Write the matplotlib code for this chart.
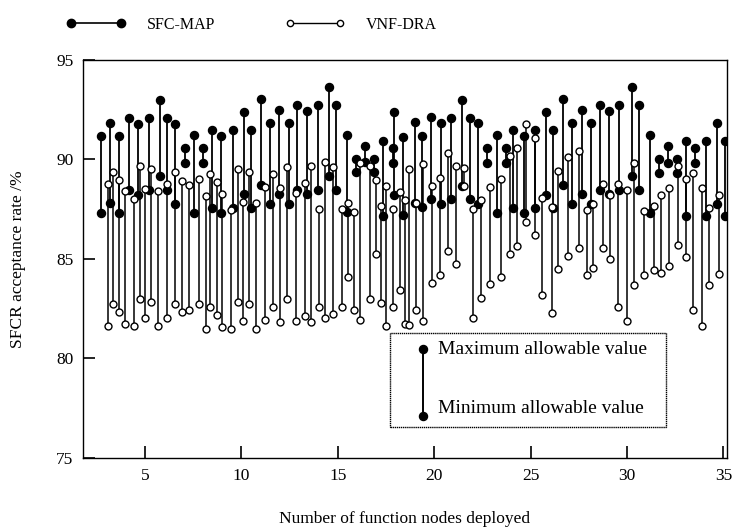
import numpy as np
import matplotlib
matplotlib.use("Agg")
from matplotlib import pyplot as plt
from matplotlib.lines import Line2D
from matplotlib.patches import Rectangle

plt.rcParams['font.family'] = ['Liberation Serif', 'DejaVu Serif']

# SFC-MAP: x position, max value, min value
sfc_x = [2.72, 3.20, 3.67, 4.15, 4.64, 5.21, 5.76, 6.16, 6.57, 7.06,
         7.54, 7.99, 8.48, 8.96, 9.55, 10.12, 10.50, 11.02, 11.50, 11.97,
         12.45, 12.88, 13.39, 13.96, 14.53, 14.92, 15.46, 15.93, 16.41, 16.89,
         17.36, 17.85, 17.93, 18.40, 18.99, 19.37, 19.85, 20.34, 20.89, 21.46,
         21.86, 22.29, 22.75, 23.24, 23.72, 24.09, 24.66, 25.23, 25.80, 26.18,
         26.70, 27.16, 27.65, 28.12, 28.60, 29.08, 29.59, 30.26, 30.62, 31.18,
         31.64, 32.13, 32.61, 33.08, 33.54, 34.11, 34.68, 35.07]
sfc_max = [91.18, 91.82, 91.18, 92.10, 91.78, 92.10, 93.00, 92.10, 91.78, 90.59,
           91.23, 90.56, 91.48, 91.18, 91.48, 92.36, 91.48, 93.03, 91.82, 92.46,
           91.82, 92.74, 92.41, 92.74, 93.62, 92.74, 91.23, 90.00, 90.67, 90.00,
           90.94, 90.59, 92.39, 91.14, 91.87, 91.18, 92.12, 91.82, 92.10, 93.00,
           92.10, 91.82, 90.56, 91.23, 90.56, 91.48, 91.18, 91.48, 92.36, 91.48,
           93.03, 91.82, 92.46, 91.82, 92.74, 92.41, 92.74, 93.62, 92.74, 91.23,
           90.00, 90.67, 90.00, 90.94, 90.59, 90.94, 91.82, 90.94]
sfc_min = [87.31, 87.81, 87.31, 88.48, 88.20, 88.48, 89.16, 88.48, 87.78, 89.80,
           87.31, 89.80, 87.56, 87.31, 87.56, 88.28, 87.56, 88.70, 87.78, 88.28,
           87.78, 88.48, 88.25, 88.48, 89.16, 88.48, 87.36, 89.38, 89.88, 89.38,
           87.14, 89.83, 88.20, 87.19, 87.81, 87.61, 88.00, 87.74, 88.00, 88.67,
           88.00, 87.74, 89.80, 87.32, 89.80, 87.56, 87.31, 87.56, 88.23, 87.56,
           88.70, 87.78, 88.28, 87.78, 88.48, 88.25, 88.48, 89.16, 88.48, 87.31,
           89.34, 89.83, 89.34, 87.14, 89.83, 87.14, 87.78, 87.14]

# VNF-DRA: x position, max value, min value
vnf_x = [3.08, 3.32, 3.67, 3.95, 4.41, 4.74, 4.98, 5.31, 5.69, 6.16,
         6.54, 6.92, 7.28, 7.79, 8.16, 8.39, 8.72, 8.99, 9.46, 9.81,
         10.07, 10.38, 10.76, 11.22, 11.62, 12.00, 12.35, 12.83, 13.31, 13.63,
         14.02, 14.32, 14.77, 15.23, 15.54, 15.86, 16.17, 16.65, 16.98, 17.26,
         17.50, 17.85, 18.23, 18.50, 18.68, 19.06, 19.40, 19.89, 20.30, 20.72,
         21.13, 21.55, 22.01, 22.41, 22.88, 23.45, 23.95, 24.31, 24.76, 25.23,
         25.58, 26.09, 26.44, 26.92, 27.51, 27.91, 28.25, 28.74, 29.12, 29.52,
         30.02, 30.35, 30.87, 31.40, 31.78, 32.18, 32.66, 33.08, 33.44, 33.90,
         34.25, 34.77]
vnf_max = [88.75, 89.38, 88.96, 88.40, 88.03, 89.66, 88.50, 89.51, 88.40, 88.74,
           89.38, 88.92, 88.69, 89.01, 88.15, 89.26, 88.84, 88.25, 87.44, 89.51,
           87.86, 89.38, 87.81, 88.59, 89.26, 88.54, 89.63, 88.30, 88.79, 89.66,
           87.53, 89.88, 89.63, 87.53, 87.83, 87.36, 89.80, 89.66, 88.96, 87.66,
           88.67, 87.53, 88.37, 87.95, 89.51, 87.83, 89.75, 88.67, 89.09, 90.34,
           89.66, 89.55, 87.53, 87.98, 88.62, 88.99, 90.15, 90.56, 91.78, 91.09,
           88.08, 87.61, 89.41, 90.10, 90.42, 87.44, 87.78, 88.74, 88.23, 88.77,
           88.48, 89.80, 87.41, 87.64, 88.20, 88.57, 89.66, 89.04, 89.34, 88.54,
           87.58, 88.20]
vnf_min = [81.63, 82.73, 82.31, 81.75, 81.63, 82.98, 82.02, 82.85, 81.63, 82.05,
           82.73, 82.31, 82.41, 82.73, 81.46, 82.59, 82.17, 81.58, 81.46, 82.85,
           81.89, 82.73, 81.46, 81.92, 82.56, 81.85, 82.98, 81.87, 82.14, 81.84,
           82.59, 82.05, 82.22, 82.59, 84.11, 82.42, 81.94, 83.01, 85.24, 82.76,
           81.63, 82.59, 83.43, 81.75, 81.68, 82.42, 81.89, 83.77, 84.19, 85.42,
           84.73, 88.67, 82.05, 83.03, 83.74, 84.07, 85.25, 85.64, 86.85, 86.18,
           83.18, 82.26, 84.49, 85.17, 85.54, 84.21, 84.56, 85.54, 85.00, 82.59,
           81.89, 83.69, 84.19, 84.44, 84.28, 84.66, 85.71, 85.12, 82.44, 81.63,
           83.69, 84.24]

xticks = [5, 10, 15, 20, 25, 30, 35]
yticks = [75, 80, 85, 90, 95]

fig = plt.figure(figsize=(7.48, 5.30), dpi=100)
ax = fig.add_axes([0.111, 0.136, 0.861, 0.751])

ax.vlines(sfc_x, sfc_min, sfc_max, colors='black', linewidth=1.3, zorder=2)
ax.vlines(vnf_x, vnf_min, vnf_max, colors='black', linewidth=1.1, zorder=2)
ax.plot(sfc_x, sfc_max, 'o', color='black', ms=5.8, zorder=3, linestyle='none')
ax.plot(sfc_x, sfc_min, 'o', color='black', ms=5.8, zorder=3, linestyle='none')
ax.plot(vnf_x, vnf_max, 'o', mfc='white', mec='black', mew=1.0, ms=5.0, zorder=4, linestyle='none')
ax.plot(vnf_x, vnf_min, 'o', mfc='white', mec='black', mew=1.0, ms=5.0, zorder=4, linestyle='none')

ax.set_xlim(1.78, 35.19)
ax.set_ylim(75, 95)
ax.set_xticks(xticks)
ax.set_yticks(yticks)
ax.tick_params(direction='in', length=8.5, width=1.2, labelsize=12.5, pad=7,
               top=False, right=False)
for s in ax.spines.values():
    s.set_linewidth(1.0)
ax.set_xlabel('Number of function nodes deployed', fontsize=12.5, labelpad=20)
ax.set_ylabel('SFCR acceptance rate /%', fontsize=12.5, labelpad=22)

# inner annotation box
box = Rectangle((0.4767, 0.0779), 0.4286, 0.2362, transform=ax.transAxes,
                fill=False, edgecolor='black', linewidth=1.0, linestyle=(0, (1, 0.5)), zorder=5)
ax.add_patch(box)
stem = Line2D([0.528, 0.528], [0.2735, 0.1055], transform=ax.transAxes, color='black',
              linewidth=1.4, zorder=6, clip_on=False)
ax.add_line(stem)
ax.add_line(Line2D([0.528, 0.528], [0.2735, 0.1055], transform=ax.transAxes,
                   linestyle='none', marker='o', ms=5.8, color='black', zorder=7, clip_on=False))
ax.text(0.551, 0.2735, 'Maximum allowable value', transform=ax.transAxes,
        fontsize=14, va='center', ha='left', zorder=6)
ax.text(0.551, 0.1232, 'Minimum allowable value', transform=ax.transAxes,
        fontsize=14, va='center', ha='left', zorder=6)

# top legend
h1 = Line2D([], [], color='black', linewidth=1.2, marker='o', ms=6)
h2 = Line2D([], [], color='black', linewidth=1.0, marker='o', ms=4.5, mfc='white', mew=1.0)
fig.legend([h1, h2], ['SFC-MAP', 'VNF-DRA'], loc='center left',
           bbox_to_anchor=(0.088, 0.953), ncol=2, frameon=False, numpoints=2,
           borderpad=0, borderaxespad=0,
           handlelength=3.75, handletextpad=1.3, columnspacing=4.4, fontsize=11.5)

fig.savefig('out.png', dpi=100)
